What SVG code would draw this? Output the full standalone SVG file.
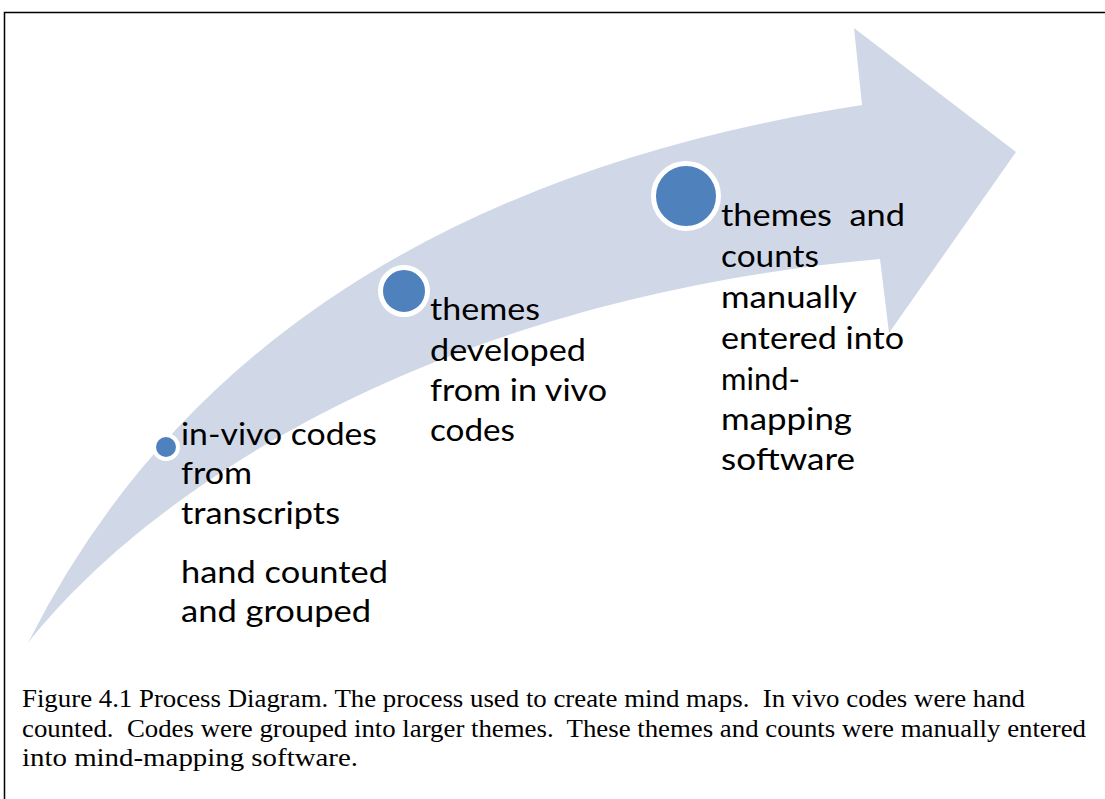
<svg xmlns="http://www.w3.org/2000/svg" width="1105" height="799" viewBox="0 0 1105 799">
<style>
.lbl{font-family:Lato,"Open Sans","Liberation Sans",sans-serif;font-size:31px;fill:#000}
.cap{font-family:"Liberation Serif","Times New Roman",serif;font-size:25px;fill:#000}
.dot{fill:#4F81BD;stroke:#fff}
</style>
<rect width="1105" height="799" fill="#fff"/>
<path d="M4.5,799 V12.5 H1105" fill="none" stroke="#000" stroke-width="1.5"/>
<g id="arrow">
<path d="M28,643 Q250,200 862,105 L854,28 L1016,152 L889,333 L880,259 C420,300 140,500 28,643 Z" fill="#D0D8E8"/>
</g>
<g id="node1">
<circle class="dot" cx="166" cy="447" r="12" stroke-width="4"/>
<text class="lbl" x="181" y="445" textLength="196" lengthAdjust="spacingAndGlyphs">in-vivo codes</text>
<text class="lbl" x="181" y="484" textLength="71" lengthAdjust="spacingAndGlyphs">from</text>
<text class="lbl" x="181" y="524" textLength="159" lengthAdjust="spacingAndGlyphs">transcripts</text>
<text class="lbl" x="181" y="583" textLength="207" lengthAdjust="spacingAndGlyphs">hand counted</text>
<text class="lbl" x="181" y="622" textLength="190" lengthAdjust="spacingAndGlyphs">and grouped</text>
</g>
<g id="node2">
<circle class="dot" cx="404" cy="291" r="23.5" stroke-width="5"/>
<text class="lbl" x="430" y="320" textLength="110" lengthAdjust="spacingAndGlyphs">themes</text>
<text class="lbl" x="430" y="361" textLength="156" lengthAdjust="spacingAndGlyphs">developed</text>
<text class="lbl" x="430" y="401" textLength="177" lengthAdjust="spacingAndGlyphs">from in vivo</text>
<text class="lbl" x="430" y="441" textLength="85" lengthAdjust="spacingAndGlyphs">codes</text>
</g>
<g id="node3">
<circle class="dot" cx="686" cy="196" r="32.5" stroke-width="5"/>
<text class="lbl" x="721" y="226" textLength="184" lengthAdjust="spacingAndGlyphs" xml:space="preserve">themes  and</text>
<text class="lbl" x="721" y="267" textLength="98" lengthAdjust="spacingAndGlyphs">counts</text>
<text class="lbl" x="721" y="308" textLength="136" lengthAdjust="spacingAndGlyphs">manually</text>
<text class="lbl" x="721" y="349" textLength="183" lengthAdjust="spacingAndGlyphs">entered into</text>
<text class="lbl" x="721" y="390" textLength="79" lengthAdjust="spacingAndGlyphs">mind-</text>
<text class="lbl" x="721" y="430" textLength="131" lengthAdjust="spacingAndGlyphs">mapping</text>
<text class="lbl" x="721" y="470" textLength="134" lengthAdjust="spacingAndGlyphs">software</text>
</g>
<g id="caption">
<text class="cap" x="22" y="707" textLength="1003" lengthAdjust="spacingAndGlyphs" xml:space="preserve">Figure 4.1 Process Diagram. The process used to create mind maps.  In vivo codes were hand</text>
<text class="cap" x="22" y="737" textLength="1064" lengthAdjust="spacingAndGlyphs" xml:space="preserve">counted.  Codes were grouped into larger themes.  These themes and counts were manually entered</text>
<text class="cap" x="22" y="766" textLength="336" lengthAdjust="spacingAndGlyphs">into mind-mapping software.</text>
</g>
</svg>
